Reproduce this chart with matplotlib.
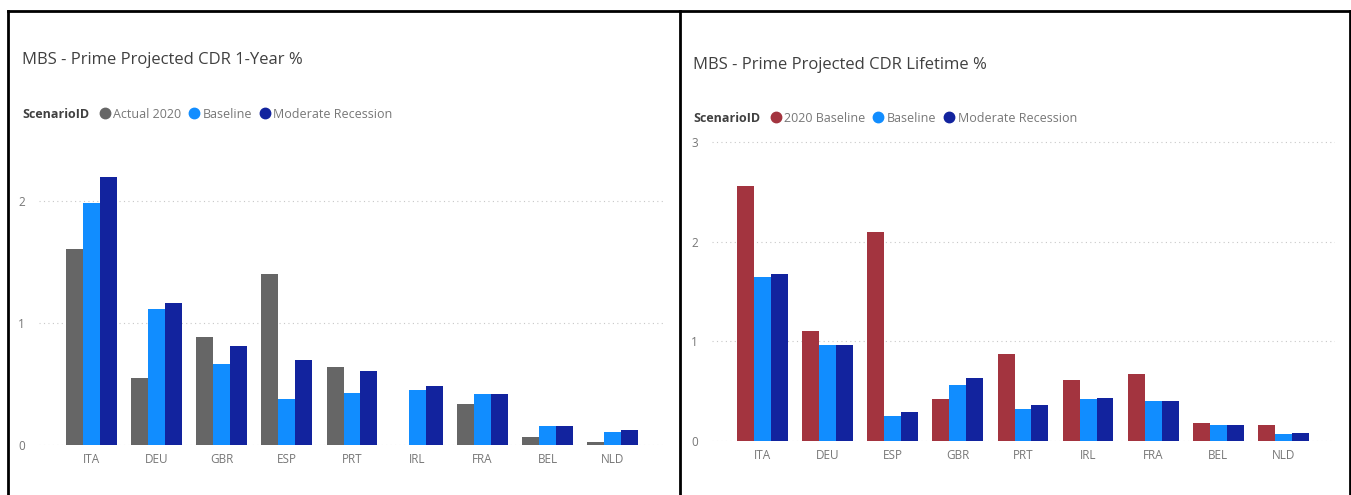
import numpy as np
import matplotlib
matplotlib.use("Agg")
import matplotlib.pyplot as plt
from matplotlib.lines import Line2D

countries_1y = ["ITA", "DEU", "GBR", "ESP", "PRT", "IRL", "FRA", "BEL", "NLD"]
actual_2020 = [1.60, 0.55, 0.885, 1.40, 0.64, 0.0, 0.33, 0.063, 0.02]
baseline_1y = [1.98, 1.115, 0.66, 0.377, 0.426, 0.45, 0.413, 0.15, 0.104]
recession_1y = [2.19, 1.16, 0.81, 0.694, 0.604, 0.48, 0.416, 0.15, 0.118]
series_1y = ["Actual 2020", "Baseline", "Moderate Recession"]

countries_lt = ["ITA", "DEU", "ESP", "GBR", "PRT", "IRL", "FRA", "BEL", "NLD"]
baseline_2020 = [2.56, 1.10, 2.10, 0.418, 0.87, 0.615, 0.669, 0.184, 0.16]
baseline_lt = [1.65, 0.963, 0.25, 0.559, 0.318, 0.424, 0.398, 0.16, 0.07]
recession_lt = [1.68, 0.963, 0.288, 0.632, 0.358, 0.427, 0.398, 0.16, 0.08]
series_lt = ["2020 Baseline", "Baseline", "Moderate Recession"]

GREY = "#666666"
BLUE = "#118DFF"
NAVY = "#12239E"
RED = "#A3343F"
TXT = "#404040"
TICK = "#777777"

plt.rcParams['font.family'] = ['Open Sans', 'DejaVu Sans']

W, H = 1351, 495
fig = plt.figure(figsize=(W / 100, H / 100), dpi=100)


def px_axes(x0, x1, y_top, y_bot):
    # pixel box (top-left origin) -> figure fractions
    return fig.add_axes([x0 / W, 1 - y_bot / H, (x1 - x0) / W, (y_bot - y_top) / H])


def draw_panel(ax, cats, vals, colors, ymax, ticks, xleft):
    x = np.arange(len(cats))
    w = 0.26
    for i, (v, c) in enumerate(zip(vals, colors)):
        ax.bar(x + (i - 1) * w, v, width=w, color=c, zorder=3)
    ax.set_xlim(xleft, xleft + 9.57)
    ax.set_ylim(0, ymax)
    ax.set_yticks(ticks)
    ax.set_xticks(x)
    ax.set_xticklabels(cats)
    for s in ax.spines.values():
        s.set_visible(False)
    ax.grid(axis='y', color='#c8c8c8', linestyle=(0, (1, 3)), linewidth=0.8, zorder=0)
    ax.tick_params(axis='both', length=0, colors=TICK, labelsize=8.5)
    ax.tick_params(axis='y', pad=10)
    ax.tick_params(axis='x', pad=6)


def draw_legend(x_title, y, names, colors):
    fig.text(x_title / W, 1 - y / H, "ScenarioID", fontsize=9, fontweight='bold',
             color=TXT, va='center', ha='left')
    handles = [Line2D([], [], marker='o', linestyle='none', markersize=7.5,
                      markerfacecolor=c, markeredgecolor=c) for c in colors]
    fig.legend(handles, names, loc='center left', bbox_to_anchor=((x_title + 75) / W, 1 - y / H),
               ncol=3, frameon=False, fontsize=9, handletextpad=0.1, columnspacing=0.4,
               borderpad=0, borderaxespad=0, handlelength=1.2, labelcolor=TICK)


# left panel
ax1 = px_axes(39, 663, 164, 444.7)
draw_panel(ax1, countries_1y, [actual_2020, baseline_1y, recession_1y],
           [GREY, BLUE, NAVY], 2.3, [0, 1, 2], -0.8)
fig.text(22 / W, 1 - 60 / H, "MBS - Prime Projected CDR 1-Year %", fontsize=12,
         color=TXT, va='center', ha='left')
draw_legend(22, 114, series_1y, [GREY, BLUE, NAVY])

# right panel
ax2 = px_axes(712, 1335, 140, 441)
draw_panel(ax2, countries_lt, [baseline_2020, baseline_lt, recession_lt],
           [RED, BLUE, NAVY], 3.02, [0, 1, 2, 3], -0.777)
fig.text(693 / W, 1 - 65 / H, "MBS - Prime Projected CDR Lifetime %", fontsize=12,
         color=TXT, va='center', ha='left')
draw_legend(693, 118, series_lt, [RED, BLUE, NAVY])

# black frame around the two visuals
for xs, ys in [((8, 8), (11, H + 5)), ((8, 1350), (11, 11)),
               ((680, 680), (11, H + 5)), ((1349.5, 1349.5), (11, H + 5))]:
    fig.add_artist(Line2D([v / W for v in xs], [1 - v / H for v in ys],
                          color='black', linewidth=2, transform=fig.transFigure))

fig.savefig("out.png", dpi=100, facecolor='white')
